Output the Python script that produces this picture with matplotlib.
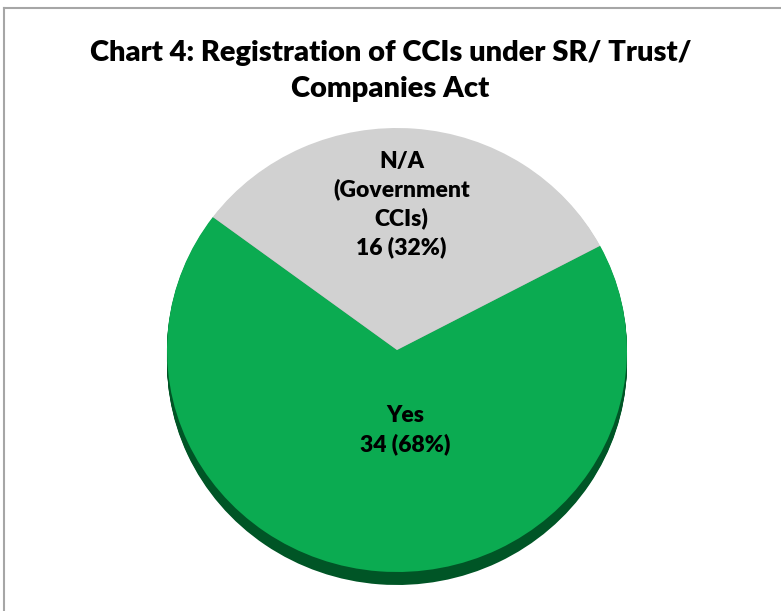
import matplotlib; matplotlib.use("Agg")
import matplotlib.pyplot as plt
from matplotlib.lines import Line2D

labels = ['Yes', 'N/A\n(Government\nCCIs)']
counts = [34, 16]
colors = ['#0BAB51', '#D1D1D1']
side_colors = ['#005526', '#8A8A8A']
title = 'Chart 4: Registration of CCIs under SR/ Trust/\nCompanies Act'

plt.rcParams['font.family'] = ['Lato', 'DejaVu Sans']
W, H = 781, 611
fig = plt.figure(figsize=(W/100, H/100), dpi=100)

# chart frame (only top and left edges are visible in the crop)
fig.add_artist(Line2D([4/W, 1], [1-8/H, 1-8/H], color='#A6A6A6', lw=1.5))
fig.add_artist(Line2D([4/W, 4/W], [0, 1-8/H], color='#A6A6A6', lw=1.5))

fig.text(0.5, 1-71/H, title, ha='center', va='center', fontsize=21, fontweight='heavy',
         linespacing=1.45)

# pie area: top surface spans x 167..627, y 128..572 px, depth ~13 px
depth = 13/222
ax = fig.add_axes([167/W, 1-585/H, 460/W, 457/H])
start = 90 + 53.2
for k in range(13, 0, -1):
    ax.pie(counts, colors=side_colors, startangle=start, counterclock=True,
           center=(0, -depth*k/13), radius=1, frame=True,
           wedgeprops=dict(linewidth=0))
wedges, _ = ax.pie(counts, colors=colors, startangle=start, counterclock=True,
                   center=(0, 0), radius=1, frame=True, wedgeprops=dict(linewidth=0))
ax.set_xlim(-1, 1); ax.set_ylim(-1-depth, 1); ax.axis('off')
ax.set_aspect('auto')

tot = sum(counts)
txt = [f'{l}\n{c} ({round(100*c/tot)}%)' for l, c in zip(labels, counts)]
ax.text(0.035, -0.36, txt[0], ha='center', va='center', fontsize=16.5, fontweight='heavy', linespacing=1.4)
ax.text(0.02, 0.655, txt[1], ha='center', va='center', fontsize=16.5, fontweight='heavy', linespacing=1.4)

fig.savefig('out.png', dpi=100)
